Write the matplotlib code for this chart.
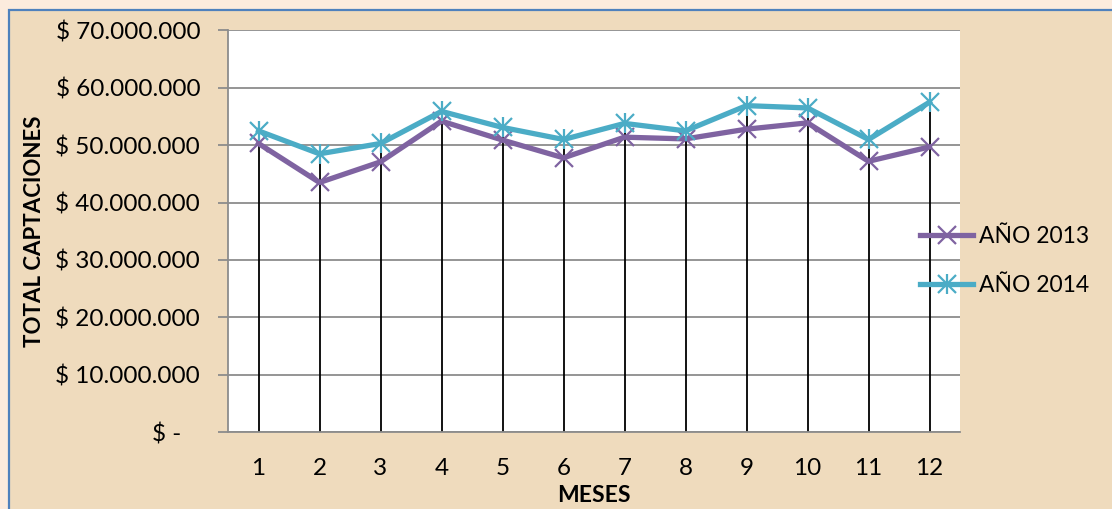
import numpy as np
import matplotlib.pyplot as plt
from matplotlib.patches import Rectangle
from matplotlib.ticker import FuncFormatter

plt.rcParams['font.family'] = ['Lato', 'DejaVu Sans']

# data
meses = [1, 2, 3, 4, 5, 6, 7, 8, 9, 10, 11, 12]
anio_2013 = [50.3e6, 43.5e6, 47.1e6, 54.2e6, 50.9e6, 47.8e6, 51.4e6, 51.1e6, 52.8e6, 53.9e6, 47.2e6, 49.7e6]
anio_2014 = [52.5e6, 48.5e6, 50.3e6, 55.9e6, 53.1e6, 51.0e6, 53.8e6, 52.5e6, 56.9e6, 56.5e6, 51.0e6, 57.5e6]
y_ticks = [0, 10e6, 20e6, 30e6, 40e6, 50e6, 60e6, 70e6]

purple = '#7F63A1'
teal = '#4BACC6'
grid_gray = '#8C8C8C'

fig = plt.figure(figsize=(11.12, 5.09), dpi=100)
fig.patch.set_facecolor('#FCEBDD')
bg = Rectangle((9 / 1112, -0.05), 1.1, 1 - 10 / 509 + 0.05,
               transform=fig.transFigure, facecolor='#EFDBBD',
               edgecolor='#4F81BD', lw=1.6)
bg.set_zorder(-5)
fig.add_artist(bg)

ax = fig.add_axes([228 / 1112, 1 - 432 / 509, 732 / 1112, 401.5 / 509])
ax.set_facecolor('white')

ax.vlines(meses, 0, np.maximum(anio_2013, anio_2014), color='black', lw=1.3, zorder=2)

l13, = ax.plot(meses, anio_2013, color=purple, lw=3.8, marker='x', ms=13, mew=1.6, zorder=3)
l14, = ax.plot(meses, anio_2014, color=teal, lw=3.8, marker='x', ms=13, mew=1.6, zorder=4)
l14b, = ax.plot(meses, anio_2014, color=teal, lw=0, marker='|', ms=15, mew=1.6, zorder=4)

ax.set_xlim(0.5, 12.5)
ax.set_ylim(0, 70e6)
ax.set_yticks(y_ticks)
ax.set_xticks(meses)


def pesos(v, pos):
    if v == 0:
        return '$ -   '
    return '$ ' + f'{int(v):,}'.replace(',', '.')


ax.yaxis.set_major_formatter(FuncFormatter(pesos))
ax.grid(axis='y', color=grid_gray, lw=1.3)
ax.set_axisbelow(True)
for s in ['top', 'right']:
    ax.spines[s].set_visible(False)
for s in ['left', 'bottom']:
    ax.spines[s].set_color(grid_gray)
    ax.spines[s].set_linewidth(1.3)

ax.tick_params(axis='y', length=7, color=grid_gray, width=1.3, pad=13, labelsize=17.5)
ax.tick_params(axis='x', length=0, pad=19, labelsize=17.5)

ax.set_xlabel('MESES', fontsize=16.5, fontweight='bold', labelpad=4)
ax.set_ylabel('TOTAL CAPTACIONES', fontsize=16, fontweight='bold')
ax.yaxis.set_label_coords(-0.25, 0.5)

fig.legend([l13, (l14, l14b)], ['AÑO 2013', 'AÑO 2014'], loc='center left',
           bbox_to_anchor=(899 / 1112, 1 - 261 / 509), frameon=False,
           fontsize=16.5, handlelength=2.35, handletextpad=0.25, labelspacing=1.2)

fig.savefig('out.png', dpi=100, facecolor=fig.get_facecolor())
